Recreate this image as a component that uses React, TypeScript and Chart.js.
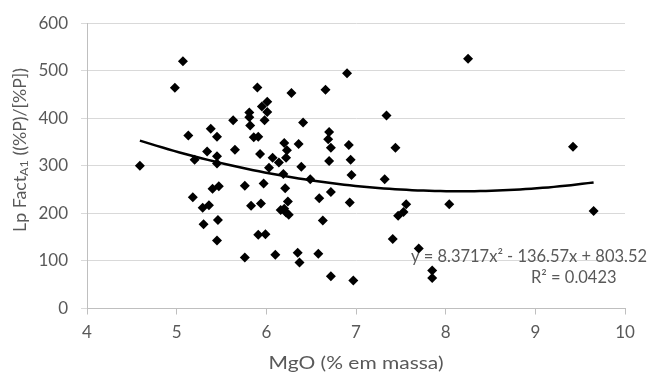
import React, { useEffect, useRef } from 'react';
import { Chart, registerables } from 'chart.js';

Chart.register(...registerables);

const mgo = [
  4.59, 4.98, 5.07, 5.13, 5.2, 5.34, 5.45, 5.45, 5.38, 5.45,
  5.63, 5.65, 5.81, 5.81, 5.82, 5.86, 5.91, 5.9, 5.95, 6.01,
  6.01, 5.98, 5.93, 6.07, 6.03, 6.14, 5.18, 5.29, 5.36, 5.4,
  5.47, 5.3, 5.46, 5.45, 5.76, 5.83, 5.97, 5.94, 5.91, 5.99,
  5.76, 6.1, 6.28, 6.66, 6.9, 6.41, 6.2, 6.23, 6.22, 6.36,
  6.39, 6.19, 6.7, 6.69, 6.72, 6.7, 6.92, 6.94, 6.49, 8.25,
  7.34, 7.44, 6.95, 7.32, 6.21, 6.59, 6.72, 6.93, 6.63, 7.56,
  7.53, 7.47, 8.04, 7.41, 7.7, 7.85, 7.85, 6.35, 6.37, 6.58,
  6.72, 6.97, 6.24, 6.16, 6.2, 6.22, 6.25, 9.42, 9.65,
];
const lpFact = [
  300, 464, 520, 364, 313, 330, 320, 305, 378, 361,
  396, 334, 402, 412, 385, 360, 361, 465, 425, 435,
  413, 396, 325, 317, 296, 307, 234, 212, 217, 252,
  257, 177, 186, 143, 258, 216, 263, 221, 155, 156,
  107, 113, 453, 460, 495, 391, 348, 333, 317, 346,
  298, 283, 371, 356, 338, 310, 344, 313, 272, 525,
  406, 338, 281, 272, 253, 232, 245, 223, 185, 219,
  203, 195, 219, 146, 126, 80, 64, 117, 97, 115,
  68, 59, 225, 207, 210, 202, 197, 340, 205,
];

const xTickValues = [4, 5, 6, 7, 8, 9, 10];
const yTickValues = [0, 100, 200, 300, 400, 500, 600];
const trendCoefficients = [8.3717, -136.57, 803.52];
const equationText = 'y = 8.3717x\u00B2 - 136.57x + 803.52';
const r2Text = 'R\u00B2 = 0.0423';
const xTitle = 'MgO (% em massa)';
const yTitleParts = ['Lp Fact', 'A1', ' ((%P)/[%P])'];

const FONT = 'Lato, "Open Sans", sans-serif';
const TEXT = '#595959';

type Part = { text: string; size: number; dy: number };

function drawFitted(
  ctx: CanvasRenderingContext2D,
  parts: Part[],
  targetWidth: number,
  cx: number,
  cy: number,
  rotate: boolean,
) {
  ctx.save();
  ctx.fillStyle = TEXT;
  ctx.textBaseline = 'middle';
  ctx.textAlign = 'left';
  const widths = parts.map((p) => {
    ctx.font = `${p.size}px ${FONT}`;
    return ctx.measureText(p.text).width;
  });
  const total = widths.reduce((a, b) => a + b, 0);
  ctx.translate(cx, cy);
  if (rotate) ctx.rotate(-Math.PI / 2);
  ctx.scale(targetWidth / total, 1);
  let x = -total / 2;
  parts.forEach((p, i) => {
    ctx.font = `${p.size}px ${FONT}`;
    ctx.fillText(p.text, x, p.dy);
    x += widths[i];
  });
  ctx.restore();
}

export default function App() {
  const ref = useRef<HTMLCanvasElement | null>(null);

  useEffect(() => {
    if (!ref.current) return;
    const minX = Math.min(...mgo);
    const maxX = Math.max(...mgo);
    const trend: { x: number; y: number }[] = [];
    const N = 80;
    for (let i = 0; i <= N; i++) {
      const x = minX + ((maxX - minX) * i) / N;
      const [a, b, c] = trendCoefficients;
      trend.push({ x, y: a * x * x + b * x + c });
    }
    const points = mgo.map((x, i) => ({ x, y: lpFact[i] }));

    const textPlugin = {
      id: 'texts',
      afterDraw(chart: any) {
        const ctx = chart.ctx as CanvasRenderingContext2D;
        drawFitted(
          ctx,
          [
            { text: yTitleParts[0], size: 17, dy: 0 },
            { text: yTitleParts[1], size: 12, dy: 3 },
            { text: yTitleParts[2], size: 17, dy: 0 },
          ],
          164,
          21,
          150,
          true,
        );
        drawFitted(ctx, [{ text: xTitle, size: 18, dy: 0 }], 175, 356, 363, false);

        ctx.save();
        ctx.fillStyle = TEXT;
        ctx.textBaseline = 'middle';
        ctx.textAlign = 'left';
        ctx.font = `16.5px ${FONT}`;
        const eqW = ctx.measureText(equationText).width;
        const sx = 236 / eqW;
        ctx.save();
        ctx.translate(411, 257);
        ctx.scale(sx, 1);
        ctx.fillText(equationText, 0, 0);
        ctx.restore();
        ctx.save();
        ctx.translate(531, 278);
        ctx.scale(sx, 1);
        ctx.fillText(r2Text, 0, 0);
        ctx.restore();
        ctx.restore();
      },
    };

    const chart = new Chart(ref.current, {
      type: 'scatter',
      data: {
        datasets: [
          {
            type: 'scatter',
            data: points,
            pointStyle: 'rectRot',
            pointRadius: 5,
            backgroundColor: '#000',
            borderColor: '#000',
            borderWidth: 0,
            order: 2,
          },
          {
            type: 'line',
            data: trend,
            borderColor: '#000',
            borderWidth: 2.5,
            pointRadius: 0,
            fill: false,
            tension: 0,
            order: 1,
          } as any,
        ],
      },
      options: {
        responsive: false,
        animation: false,
        layout: { padding: { left: 0, right: 33, top: 18, bottom: 0 } },
        plugins: {
          legend: { display: false },
          tooltip: { enabled: false },
        },
        scales: {
          x: {
            type: 'linear',
            min: 4,
            max: 10,
            afterBuildTicks: (s: any) => {
              s.ticks = xTickValues.map((v) => ({ value: v }));
            },
            afterFit: (s: any) => {
              s.height = 67.5;
            },
            grid: {
              drawOnChartArea: false,
              drawTicks: true,
              tickLength: 6,
              color: '#bfbfbf',
            },
            border: { color: '#bfbfbf' },
            ticks: {
              color: TEXT,
              font: { family: FONT, size: 17 },
              padding: 8,
            },
          },
          y: {
            type: 'linear',
            min: 0,
            max: 600,
            afterBuildTicks: (s: any) => {
              s.ticks = yTickValues.map((v) => ({ value: v }));
            },
            afterFit: (s: any) => {
              s.width = 87;
            },
            grid: {
              color: '#d9d9d9',
              drawTicks: true,
              tickLength: 6,
            },
            border: { color: '#bfbfbf' },
            ticks: {
              color: TEXT,
              font: { family: FONT, size: 17 },
              padding: 13,
            },
          },
        },
      },
      plugins: [textPlugin],
    });
    return () => chart.destroy();
  }, []);

  return (
    <div style={{ position: 'fixed', left: 0, top: 0, width: 658, height: 376, background: '#fff' }}>
      <canvas ref={ref} width={658} height={376} style={{ display: 'block' }} />
    </div>
  );
}
